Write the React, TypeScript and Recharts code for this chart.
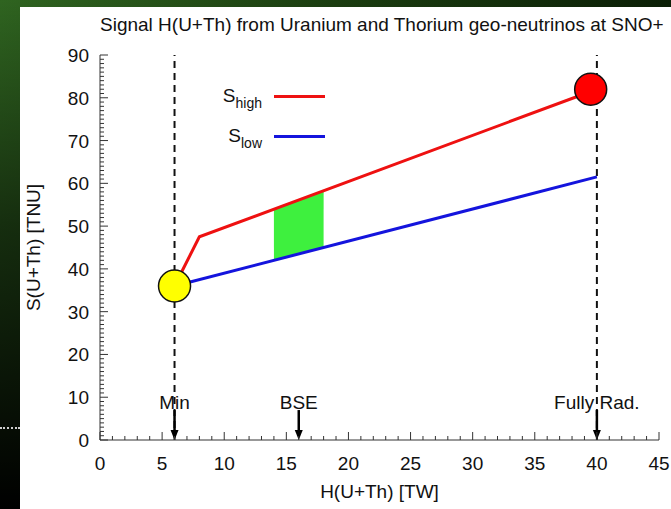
import React from 'react';
import {
  ComposedChart,
  Line,
  Area,
  Scatter,
  XAxis,
  YAxis,
  ReferenceLine,
  Legend,
  Label,
} from 'recharts';

const FONT = '"Liberation Sans", Arial, Helvetica, sans-serif';

const titleText = 'Signal H(U+Th) from Uranium and Thorium geo-neutrinos at SNO+';
const xAxisTitle = 'H(U+Th) [TW]';
const yAxisTitle = 'S(U+Th) [TNU]';

// labelled (major) ticks
const xTickLabels = [0, 5, 10, 15, 20, 25, 30, 35, 40, 45];
const yTickLabels = [0, 10, 20, 30, 40, 50, 60, 70, 80, 90];
const xDomain: [number, number] = [0, 45];
const yDomain: [number, number] = [0, 90];

// unlabelled minor ticks every 1 TW / 1 TNU
const xTicksAll = Array.from({ length: 46 }, (_, i) => i);
const yTicksAll = Array.from({ length: 91 }, (_, i) => i);

// S_high: steep rise above the minimum, then linear up to the fully radiogenic end
const sHighH = [6, 8, 40];
const sHighS = [36, 47.5, 82];

// S_low: linear from the minimum to the fully radiogenic end
const sLowH = [6, 40];
const sLowS = [36, 61.5];

// BSE band between the two curves
const bseH = [14, 18];
const bseLow = [42, 45];
const bseHigh = [54, 58.3];

// reference models marked on the H axis
const refH = [6, 16, 40];
const refNames = ['Min', 'BSE', 'Fully Rad.'];
const dashedH = [6, 40];
const arrowTop = 7;

// end-point markers
const minPoint = [{ h: 6, s: 36 }];
const radPoint = [{ h: 39.5, s: 82 }];

const highData = sHighH.map((h, i) => ({ h, s: sHighS[i] }));
const lowData = sLowH.map((h, i) => ({ h, s: sLowS[i] }));
const bseData = bseH.map((h, i) => ({ h, low: bseLow[i], high: bseHigh[i] }));

const TICK_COLOR = '#333';
const LABEL_SIZE = 19;

const isMajor = (v: number, step: number) => v % step === 0;

const BottomTick = (props: any) => {
  const { x, y, payload } = props;
  const major = isMajor(payload.value, 5);
  return (
    <g>
      <line x1={x} x2={x} y1={y} y2={y - (major ? 8 : 4)} stroke={TICK_COLOR} strokeWidth={1} />
      {major && (
        <text x={x} y={y + 30} textAnchor="middle" fontSize={LABEL_SIZE} fontFamily={FONT} fill="#111">
          {payload.value}
        </text>
      )}
    </g>
  );
};

const TopTick = (props: any) => {
  const { x, y, payload } = props;
  const major = isMajor(payload.value, 5);
  return <line x1={x} x2={x} y1={y} y2={y + (major ? 8 : 4)} stroke={TICK_COLOR} strokeWidth={1} />;
};

const LeftTick = (props: any) => {
  const { x, y, payload } = props;
  const major = isMajor(payload.value, 10);
  return (
    <g>
      <line x1={x} x2={x + (major ? 8 : 4)} y1={y} y2={y} stroke={TICK_COLOR} strokeWidth={1} />
      {major && (
        <text x={x - 11} y={y + 7} textAnchor="end" fontSize={LABEL_SIZE} fontFamily={FONT} fill="#111">
          {payload.value}
        </text>
      )}
    </g>
  );
};

const RightTick = (props: any) => {
  const { x, y, payload } = props;
  const major = isMajor(payload.value, 10);
  return <line x1={x} x2={x - (major ? 8 : 4)} y1={y} y2={y} stroke={TICK_COLOR} strokeWidth={1} />;
};

const makeArrow = (name: string) => (props: any) => {
  const { x1, y1, x2, y2 } = props;
  const top = Math.min(y1, y2);
  const bottom = Math.max(y1, y2);
  const head = 10;
  return (
    <g>
      <text x={x1} y={top - 1} textAnchor="middle" fontSize={LABEL_SIZE} fontFamily={FONT} fill="#111">
        {name}
      </text>
      <line x1={x1} x2={x1} y1={top} y2={bottom - head + 1} stroke="#000" strokeWidth={2.5} />
      <polygon points={`${x1 - 4},${bottom - head} ${x1 + 4},${bottom - head} ${x1},${bottom}`} fill="#000" />
    </g>
  );
};

const LegendContent = (props: any) => {
  const items = (props.payload || []).filter((p: any) => p.type !== 'none');
  return (
    <div style={{ fontFamily: FONT, color: '#111' }}>
      {items.map((p: any) => (
        <div key={p.value} style={{ display: 'flex', alignItems: 'center', height: 40 }}>
          <div style={{ width: 64, textAlign: 'right', fontSize: LABEL_SIZE, lineHeight: '19px', whiteSpace: 'nowrap' }}>
            S
            <span style={{ fontSize: 14, position: 'relative', top: 6 }}>{p.value}</span>
          </div>
          <div style={{ marginLeft: 12, width: 51, height: 3, background: p.color }} />
        </div>
      ))}
    </div>
  );
};

export default function App() {
  return (
    <div
      style={{
        position: 'fixed',
        left: 0,
        top: 0,
        width: 671,
        height: 509,
        overflow: 'hidden',
        background:
          'linear-gradient(180deg, rgba(0,0,0,0) 0%, rgba(0,0,0,0.55) 45%, rgba(0,0,0,1) 100%), linear-gradient(90deg, #2f6420 0%, #1b3d10 50%, #0b1f06 100%)',
      }}
    >
      <div
        style={{
          position: 'absolute',
          left: 0,
          top: 427,
          width: 20,
          borderTop: '2px dotted #cfcfcf',
        }}
      />
      <div style={{ position: 'absolute', left: 20, top: 7, right: 0, bottom: 0, background: '#fff' }} />
      <div
        style={{
          position: 'absolute',
          left: 100,
          top: 14,
          width: 559,
          textAlign: 'center',
          fontFamily: FONT,
          fontSize: LABEL_SIZE,
          lineHeight: '22px',
          color: '#111',
          whiteSpace: 'nowrap',
        }}
      >
        {titleText}
      </div>
      <div style={{ position: 'absolute', left: 0, top: 0 }}>
        <ComposedChart width={671} height={509} margin={{ top: 55, right: 12, bottom: 0, left: 0 }}>
          <XAxis
            dataKey="h"
            type="number"
            domain={xDomain}
            ticks={xTicksAll}
            interval={0}
            tickSize={0}
            tickMargin={0}
            tick={<BottomTick />}
            tickLine={false}
            axisLine={{ stroke: TICK_COLOR, strokeWidth: 1 }}
            height={69}
            allowDataOverflow
          >
            <Label
              content={(p: any) => {
                const vb = p.viewBox;
                return (
                  <text
                    x={vb.x + vb.width / 2}
                    y={vb.y + 58}
                    textAnchor="middle"
                    fontSize={LABEL_SIZE}
                    fontFamily={FONT}
                    fill="#111"
                  >
                    {xAxisTitle}
                  </text>
                );
              }}
            />
          </XAxis>
          <XAxis
            xAxisId="top"
            orientation="top"
            type="number"
            domain={xDomain}
            ticks={xTicksAll}
            interval={0}
            tickSize={0}
            tickMargin={0}
            tick={<TopTick />}
            tickLine={false}
            axisLine={{ stroke: TICK_COLOR, strokeWidth: 1 }}
            height={0}
            allowDataOverflow
          />
          <YAxis
            type="number"
            domain={yDomain}
            ticks={yTicksAll}
            interval={0}
            tickSize={0}
            tickMargin={0}
            tick={<LeftTick />}
            tickLine={false}
            axisLine={{ stroke: TICK_COLOR, strokeWidth: 1 }}
            width={100}
            allowDataOverflow
          >
            <Label
              content={(p: any) => {
                const vb = p.viewBox;
                const cx = 40;
                const cy = vb.y + vb.height / 2;
                return (
                  <text
                    x={cx}
                    y={cy}
                    transform={`rotate(-90 ${cx} ${cy})`}
                    textAnchor="middle"
                    fontSize={LABEL_SIZE}
                    fontFamily={FONT}
                    fill="#111"
                  >
                    {yAxisTitle}
                  </text>
                );
              }}
            />
          </YAxis>
          <YAxis
            yAxisId="right"
            orientation="right"
            type="number"
            domain={yDomain}
            ticks={yTicksAll}
            interval={0}
            tickSize={0}
            tickMargin={0}
            tick={<RightTick />}
            tickLine={false}
            axisLine={{ stroke: TICK_COLOR, strokeWidth: 1 }}
            width={0}
            allowDataOverflow
          />

          {dashedH.map((h) => (
            <ReferenceLine
              key={`d${h}`}
              x={h}
              stroke="#111"
              strokeWidth={2}
              strokeDasharray="7 5"
              ifOverflow="visible"
            />
          ))}

          <Area
            data={bseData}
            dataKey={(d: any) => [d.low, d.high]}
            type="linear"
            stroke="none"
            fill="#3ef03e"
            fillOpacity={1}
            legendType="none"
            isAnimationActive={false}
          />
          <Line
            data={highData}
            dataKey="s"
            name="high"
            type="linear"
            stroke="#ee1111"
            strokeWidth={3}
            dot={false}
            activeDot={false}
            isAnimationActive={false}
          />
          <Line
            data={lowData}
            dataKey="s"
            name="low"
            type="linear"
            stroke="#1414dd"
            strokeWidth={3}
            dot={false}
            activeDot={false}
            isAnimationActive={false}
          />
          <Scatter
            data={minPoint}
            dataKey="s"
            legendType="none"
            isAnimationActive={false}
            shape={(p: any) => <circle cx={p.cx} cy={p.cy} r={16} fill="#ffff00" stroke="#111" strokeWidth={1.5} />}
          />
          <Scatter
            data={radPoint}
            dataKey="s"
            legendType="none"
            isAnimationActive={false}
            shape={(p: any) => <circle cx={p.cx} cy={p.cy} r={16} fill="#ff0000" stroke="#111" strokeWidth={1.5} />}
          />

          {refH.map((h, i) => (
            <ReferenceLine
              key={`a${h}`}
              segment={[
                { x: h, y: arrowTop },
                { x: h, y: 0 },
              ]}
              ifOverflow="visible"
              shape={makeArrow(refNames[i])}
            />
          ))}

          <Legend
            layout="vertical"
            align="center"
            verticalAlign="middle"
            content={<LegendContent />}
            wrapperStyle={{ left: 198, top: 76, width: 140, height: 80 }}
          />
        </ComposedChart>
      </div>
    </div>
  );
}
